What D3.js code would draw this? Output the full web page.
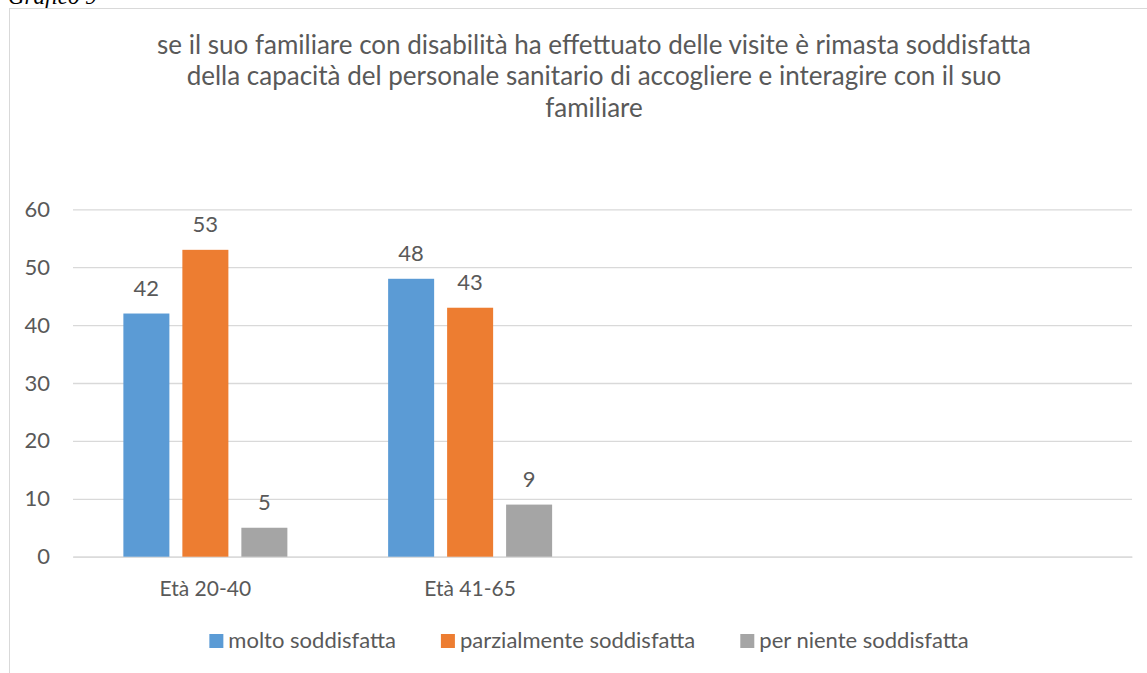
<!DOCTYPE html>
<html>
<head>
<meta charset="utf-8">
<script src="https://cdn.jsdelivr.net/npm/d3@7"></script>
<style>
  html, body { margin: 0; padding: 0; background: #ffffff; }
  svg { display: block; }
  text { font-family: Lato, "Open Sans", "Liberation Sans", sans-serif; fill: #595959; }
</style>
</head>
<body>
<svg id="chart" width="1147" height="673"></svg>
<script>
const caption = "Grafico 9";
const titleLines = [
  "se il suo familiare con disabilità ha effettuato delle visite è rimasta soddisfatta",
  "della capacità del personale sanitario di accogliere e interagire con il suo",
  "familiare"
];
const categories = ["Età 20-40", "Età 41-65", "", ""];
const seriesNames = ["molto soddisfatta", "parzialmente soddisfatta", "per niente soddisfatta"];
const seriesColors = ["#5B9BD5", "#ED7D31", "#A5A5A5"];
const molto = [42, 48, null, null];
const parzialmente = [53, 43, null, null];
const perNiente = [5, 9, null, null];
const yTicks = [0, 10, 20, 30, 40, 50, 60];

const seriesValues = [molto, parzialmente, perNiente];

const W = 1147, H = 673;
const svg = d3.select("#chart");

// caption above the chart (partly cut off, as in the source page)
svg.append("text")
  .attr("x", 8).attr("y", 4)
  .style("font-family", "'Liberation Serif', 'DejaVu Serif', serif")
  .style("font-style", "italic")
  .style("font-size", "23px")
  .style("fill", "#000")
  .text(caption);

// chart frame (extends beyond the picture on right/bottom)
svg.append("rect")
  .attr("x", 9.5).attr("y", 8.5)
  .attr("width", 1200).attr("height", 700)
  .attr("fill", "#fff")
  .attr("stroke", "#d9d9d9").attr("stroke-width", 1);

const margin = { left: 73, right: 1132, top: 209.3, bottom: 556.7 };

const x = d3.scaleBand()
  .domain(d3.range(categories.length))
  .range([margin.left, margin.right])
  .padding(0);

const xInner = d3.scaleBand()
  .domain(d3.range(seriesNames.length))
  .range([0, x.bandwidth()])
  .paddingInner(0.22)
  .paddingOuter(0.854);

const y = d3.scaleLinear()
  .domain([0, 60])
  .range([margin.bottom, margin.top]);

// gridlines
const yAxis = d3.axisLeft(y)
  .tickValues(yTicks)
  .tickSize(-(margin.right - margin.left))
  .tickPadding(23)
  .tickFormat(d3.format("d"));

const gy = svg.append("g")
  .attr("transform", `translate(${margin.left},0)`)
  .call(yAxis);
gy.select(".domain").remove();
gy.selectAll(".tick line").attr("stroke", "#d9d9d9").attr("stroke-width", 1.3);
gy.selectAll(".tick text")
  .style("font-size", "22px")
  .style("fill", "#595959");

// x axis
const xAxis = d3.axisBottom(x)
  .tickSize(0)
  .tickPadding(24)
  .tickFormat(i => categories[i]);
const gx = svg.append("g")
  .attr("transform", `translate(0,${margin.bottom})`)
  .call(xAxis);
gx.select(".domain").attr("stroke", "#d9d9d9").attr("stroke-width", 1.3);
gx.selectAll(".tick text")
  .style("font-size", "21px")
  .style("fill", "#595959");

// bars
const barData = [];
categories.forEach((c, ci) => {
  seriesValues.forEach((vals, si) => {
    if (vals[ci] != null) barData.push({ ci, si, v: vals[ci] });
  });
});

svg.append("g").selectAll("rect")
  .data(barData)
  .join("rect")
  .attr("x", d => x(d.ci) + xInner(d.si))
  .attr("y", d => y(d.v))
  .attr("width", xInner.bandwidth())
  .attr("height", d => y(0) - y(d.v))
  .attr("fill", d => seriesColors[d.si]);

// data labels
svg.append("g").selectAll("text")
  .data(barData)
  .join("text")
  .attr("x", d => x(d.ci) + xInner(d.si) + xInner.bandwidth() / 2)
  .attr("y", d => y(d.v) - 18)
  .attr("text-anchor", "middle")
  .style("font-size", "22px")
  .text(d => d.v);

// title
const titleCx = 594;
svg.append("g").selectAll("text")
  .data(titleLines)
  .join("text")
  .attr("x", titleCx)
  .attr("y", (d, i) => 53.5 + i * 31.7)
  .attr("text-anchor", "middle")
  .style("font-size", "26px")
  .text(d => d);

// legend
const legendCx = 589;
const legendY = 648;
const sq = 14, gapText = 5, gapItem = 45;
const lg = svg.append("g");
const items = lg.selectAll("g")
  .data(seriesNames)
  .join("g");
items.append("rect")
  .attr("width", sq).attr("height", sq)
  .attr("y", legendY - sq)
  .attr("fill", (d, i) => seriesColors[i]);
items.append("text")
  .attr("x", sq + gapText)
  .attr("y", legendY)
  .style("font-size", "22px")
  .text(d => d);
let cursor = 0;
const widths = [];
items.each(function () {
  const w = sq + gapText + d3.select(this).select("text").node().getComputedTextLength();
  widths.push(w);
});
const total = d3.sum(widths) + gapItem * (widths.length - 1);
cursor = legendCx - total / 2;
items.attr("transform", (d, i) => {
  const tx = cursor;
  cursor += widths[i] + gapItem;
  return `translate(${tx},0)`;
});
</script>
</body>
</html>
